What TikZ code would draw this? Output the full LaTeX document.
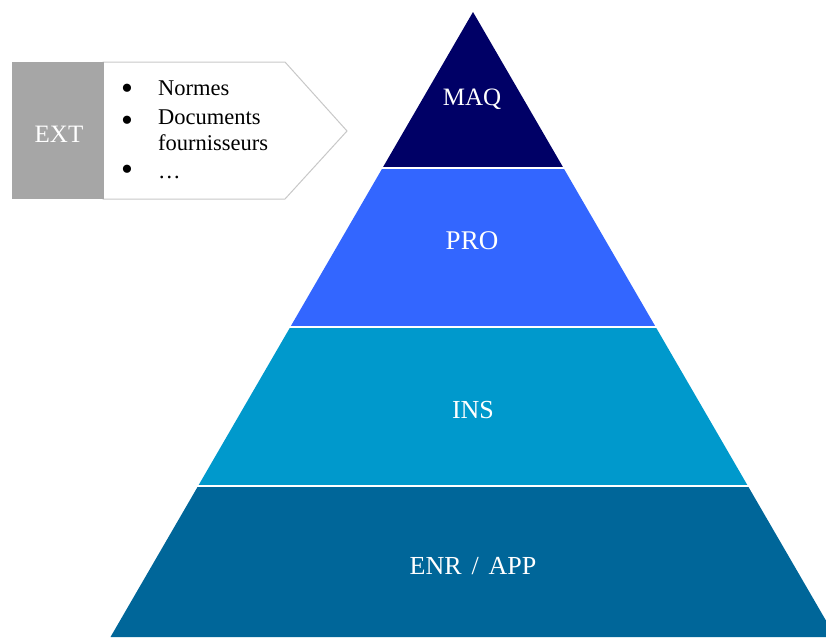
\documentclass[tikz,border=0pt]{standalone}
\usepackage{fontspec}
\setmainfont{Liberation Serif}
\definecolor{maq}{HTML}{000066}
\definecolor{pro}{HTML}{3366FF}
\definecolor{ins}{HTML}{0099CC}
\definecolor{enr}{HTML}{006699}
\definecolor{extgray}{HTML}{A6A6A6}
\definecolor{outl}{HTML}{C8C8C8}
\tikzset{
  lvl/.style={text=white, anchor=base, inner sep=0pt, font=\fontsize{26}{30}\selectfont},
  itm/.style={anchor=base west, inner sep=0pt, font=\fontsize{22.5}{26}\selectfont},
  bul/.style={anchor=center, inner sep=0pt, font=\fontsize{34}{36}\selectfont},
  sep/.style={white, line width=2pt}
}
\begin{document}
\begin{tikzpicture}[x=1pt,y=-1pt]
\useasboundingbox (0,0) rectangle (826,637);
\clip (0,0) rectangle (826,637);
% pyramid layers
\fill[maq] (473,12) -- (563.5,168) -- (382.5,168) -- cycle;
\fill[pro] (382.5,168) -- (563.5,168) -- (655.7,327) -- (290.3,327) -- cycle;
\fill[ins] (290.3,327) -- (655.7,327) -- (747.9,486) -- (198.1,486) -- cycle;
\fill[enr] (198.1,486) -- (747.9,486) -- (835.5,637) -- (110.5,637) -- cycle;
\draw[sep] (380,168) -- (566,168);
\draw[sep] (288,327) -- (658,327);
\draw[sep] (196,486) -- (750,486);
\node[lvl, font=\fontsize{25}{30}\selectfont] (maqlbl) at (472,105) {MAQ};
\node[lvl, font=\fontsize{27}{30}\selectfont] (prolbl) at (472,249) {PRO};
\node[lvl] (inslbl) at (473,418) {INS};
\node[lvl] (enrlbl) at (473,574) {ENR\hspace{0.38em}/\hspace{0.38em}APP};
% EXT callout
\filldraw[fill=white, draw=outl, line width=1pt] (103,62) -- (285,62) -- (347,131) -- (285,199) -- (103,199) -- cycle;
\fill[extgray] (12,62) rectangle (104,199);
\node[lvl, font=\fontsize{25}{30}\selectfont] (ext) at (59,142) {EXT};
\node[bul] (b1) at (127,92) {\textbullet};
\node[itm] (t1) at (158,95) {Normes};
\node[bul] (b2) at (127,124) {\textbullet};
\node[itm] (t2) at (158,124) {Documents};
\node[itm] (t3) at (158,150) {fournisseurs};
\node[bul] (b4) at (127,173) {\textbullet};
\node[itm] (t4) at (158,178) {\dots};
\end{tikzpicture}
\end{document}
